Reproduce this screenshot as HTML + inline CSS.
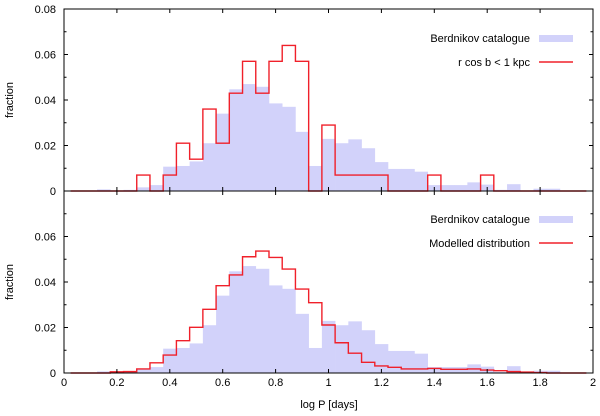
<!DOCTYPE html>
<html><head><meta charset="utf-8"><style>
body{margin:0;background:#fff}
svg text{font-family:"Liberation Sans",sans-serif;font-size:11px;fill:#000}
</style></head><body>
<svg id="chart" width="600" height="411" viewBox="0 0 600 411"></svg>
<script>
// bin centers (log P), width 0.05
const binCenters = [];
for (let k = 1; k <= 39; k++) binCenters.push(+(k*0.05).toFixed(2));
// Berdnikov catalogue fractions (both panels)
const berdnikov = [0,0,0.0007,0,0.0005,0.0016,0.0026,0.0107,0.011,0.013,0.021,0.034,0.0447,0.047,0.0458,0.0385,0.037,0.026,0.011,0.0229,0.021,0.0227,0.0188,0.0127,0.0097,0.0097,0.0085,0.0026,0.0026,0.0026,0.0038,0.0028,0.0005,0.003,0,0.001,0.001,0,0];
// r cos b < 1 kpc fractions
const nearby = [0,0,0,0,0,0.007,0,0.007,0.021,0.014,0.036,0.021,0.043,0.057,0.043,0.057,0.064,0.057,0,0.029,0.007,0.007,0.007,0.007,0,0,0,0.007,0,0,0,0.007,0,0,0,0,0,0,0];
// Modelled distribution fractions
const modelled = [0,0,0,0.0005,0.0006,0.0018,0.0045,0.0079,0.0142,0.0201,0.028,0.0384,0.0431,0.0511,0.0536,0.0508,0.0457,0.0369,0.0309,0.0211,0.0133,0.0087,0.0047,0.0031,0.0025,0.0018,0.0018,0.002,0.0016,0.0016,0.0018,0.0013,0.001,0.0006,0.0004,0.0002,0,0,0];
const xTicks = [0,0.2,0.4,0.6,0.8,1,1.2,1.4,1.6,1.8,2];
const xTickLabels = ["0","0.2","0.4","0.6","0.8","1","1.2","1.4","1.6","1.8","2"];
const topYTicks = [0,0.02,0.04,0.06,0.08];
const topYLabels = ["0","0.02","0.04","0.06","0.08"];
const botYTicks = [0,0.02,0.04,0.06];
const botYLabels = ["0","0.02","0.04","0.06"];

const NS="http://www.w3.org/2000/svg";
const svg=document.getElementById('chart');
const X0=64,X1=593;
const xs=v=>X0+(X1-X0)*v/2;
function mk(tag,attrs,parent){const e=document.createElementNS(NS,tag);for(const k in attrs)e.setAttribute(k,attrs[k]);(parent||svg).appendChild(e);return e;}

function panel(name,yTop,yBot,blue,red,yt,yl,leg1,leg2,legY){
  const ys=v=>yBot-(yBot-yTop)*v/0.08;
  const g=mk('g',{});
  
  
  const hw=0.025;
  blue.forEach((v,i)=>{ if(v<=0)return;
    const r=mk('rect',{x:xs(binCenters[i]-hw),y:ys(v),width:xs(binCenters[i]+hw)-xs(binCenters[i]-hw)+0.3,height:yBot-ys(v),fill:'#d2d2fa'},g);
    
    
  });
  let d='';
  red.forEach((v,i)=>{const a=xs(binCenters[i]-hw),b=xs(binCenters[i]+hw),y=ys(v);
    d+=(i===0?'M':'L')+a+' '+y+' L'+b+' '+y+' ';});
  const p=mk('path',{d:d,fill:'none',stroke:'#f0202a','stroke-width':1.4},g);
  
  
  mk('rect',{x:X0,y:yTop,width:X1-X0,height:yBot-yTop,fill:'none',stroke:'#000','stroke-width':1},g);
  xTicks.forEach(v=>{const x=xs(v);
    mk('line',{x1:x,x2:x,y1:yBot,y2:yBot-4,stroke:'#000'},g);
    mk('line',{x1:x,x2:x,y1:yTop,y2:yTop+4,stroke:'#000'},g);});
  for(let v=0;v<=0.0801;v+=0.01){const y=ys(v);const major=Math.round(v*100)%2===0;const L=major?4:2.5;
    mk('line',{x1:X0,x2:X0+L,y1:y,y2:y,stroke:'#000'},g);
    mk('line',{x1:X1,x2:X1-L,y1:y,y2:y,stroke:'#000'},g);}
  yt.forEach((v,i)=>{const t=mk('text',{x:56,y:ys(v)+4,'text-anchor':'end'},g);t.textContent=yl[i];
    
    });
  const yt1=mk('text',{x:13,y:(yTop+yBot)/2,'text-anchor':'middle',transform:`rotate(-90 13 ${(yTop+yBot)/2})`},g);
  yt1.textContent='fraction';
  
  
  const l1=mk('text',{x:530,y:legY+4,'text-anchor':'end'},g);l1.textContent=leg1;
  
  
  const s1=mk('rect',{x:539,y:legY-3,width:34,height:7,fill:'#d2d2fa'},g);
  
  
  const l2=mk('text',{x:530,y:legY+28,'text-anchor':'end'},g);l2.textContent=leg2;
  
  
  const s2=mk('line',{x1:539,x2:573,y1:legY+24,y2:legY+24,stroke:'#f0202a','stroke-width':1.4},g);
  
  
}
panel('top-panel',9,191,berdnikov,nearby,topYTicks,topYLabels,'Berdnikov catalogue','r cos b < 1 kpc',38);
panel('bottom-panel',191,373,berdnikov,modelled,botYTicks,botYLabels,'Berdnikov catalogue','Modelled distribution',219);
xTicks.forEach((v,i)=>{const t=mk('text',{x:xs(v),y:386,'text-anchor':'middle'});t.textContent=xTickLabels[i];
  
  });
const xt=mk('text',{x:329,y:408,'text-anchor':'middle'});xt.textContent='log P [days]';


</script>
</body></html>
